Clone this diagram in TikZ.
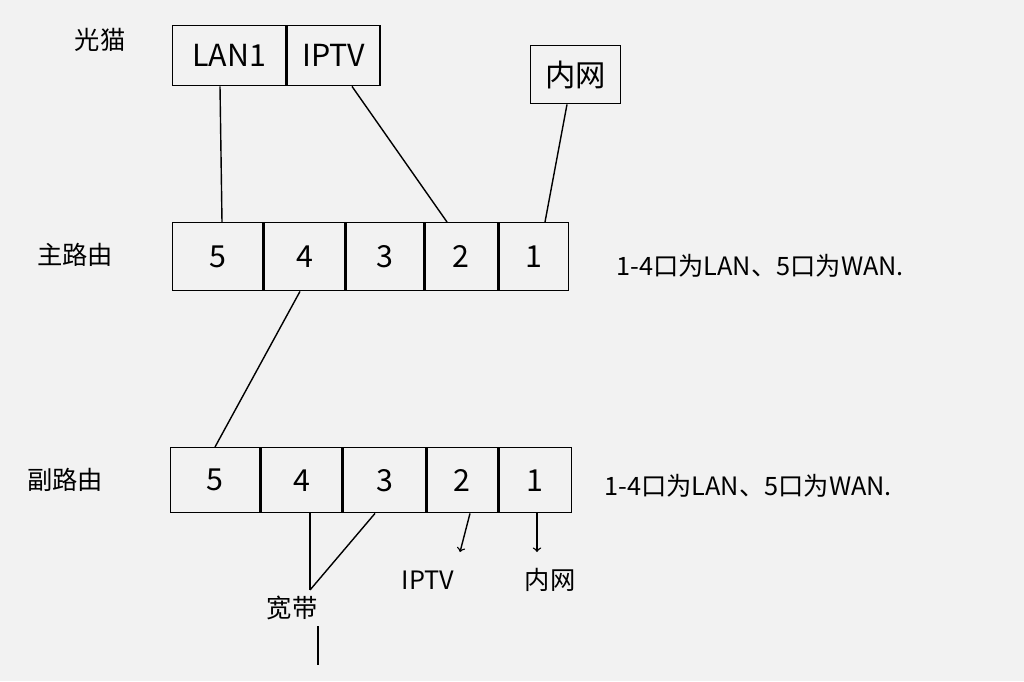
\documentclass[tikz,border=0pt]{standalone}
\usepackage{fontspec}
\setmainfont{Noto Sans CJK SC}
\usetikzlibrary{positioning}

\tikzset{
    port/.style={draw, thick, inner sep=0pt, font=\LARGE},
    wire/.style={thick},
    lbl/.style={font=\Large}
}

\begin{document}
\begin{tikzpicture}[x=0.02cm, y=-0.02cm]
    \useasboundingbox[fill=gray!10] (0,0) rectangle (1024,681);

    % --- 光猫 ---
    \node[lbl] (modem) at (100,40) {光猫};
    \node[port, minimum width=2.26cm, minimum height=1.2cm, anchor=north west] (lan1) at (172,25) {LAN1};
    \node[port, minimum width=1.86cm, minimum height=1.2cm, right=0pt of lan1] (iptv) {IPTV};
    \node[port, minimum width=1.8cm, minimum height=1.16cm, anchor=north west] (inner) at (530,45) {内网};

    % --- 主路由 ---
    \node[lbl] (main) at (75,255) {主路由};
    \node[port, minimum width=1.80cm, minimum height=1.36cm, anchor=north west] (m5) at (172,222) {5};
    \node[port, minimum width=1.62cm, minimum height=1.36cm, right=0pt of m5] (m4) {4};
    \node[port, minimum width=1.54cm, minimum height=1.36cm, right=0pt of m4] (m3) {3};
    \node[port, minimum width=1.46cm, minimum height=1.36cm, right=0pt of m3] (m2) {2};
    \node[port, minimum width=1.38cm, minimum height=1.36cm, right=0pt of m2] (m1) {1};
    \node[lbl, anchor=west] (mnote) at (610,266) {1-4口为LAN、5口为WAN.};

    % --- 副路由 ---
    \node[lbl] (sub) at (65,480) {副路由};
    \node[port, minimum width=1.78cm, minimum height=1.3cm, anchor=north west] (s5) at (170,447) {5};
    \node[port, minimum width=1.62cm, minimum height=1.3cm, right=0pt of s5] (s4) {4};
    \node[port, minimum width=1.64cm, minimum height=1.3cm, right=0pt of s4] (s3) {3};
    \node[port, minimum width=1.42cm, minimum height=1.3cm, right=0pt of s3] (s2) {2};
    \node[port, minimum width=1.44cm, minimum height=1.3cm, right=0pt of s2] (s1) {1};
    \node[lbl, anchor=west] (snote) at (598,486) {1-4口为LAN、5口为WAN.};

    % 下方
    \coordinate (join) at (310,590);
    \node[lbl] (bb) at (292,608) {宽带};
    \coordinate (bbend) at (318,665);
    \node[lbl] (iptv2) at (428,580) {IPTV};
    \node[lbl] (inner2) at (550,580) {内网};

    % 连线
    \draw[wire] (lan1.south -| 220,0) -- (m5.north -| 222,0);
    \draw[wire] (iptv.south -| 352,0) -- (m2.north -| 447,0);
    \draw[wire] (inner.south -| 567,0) -- (m1.north -| 545,0);
    \draw[wire] (m4.south -| 300,0) -- (s5.north -| 215,0);
    \draw[wire] (s4.south -| 310,0) -- (join);
    \draw[wire] (s3.south -| 375,0) -- (join);
    \draw[wire] (bb.south -| bbend) -- (bbend);
    \draw[wire, ->] (s2.south -| 470,0) -- (460,552);
    \draw[wire, ->] (s1.south -| 537,0) -- (537,552);
\end{tikzpicture}
\end{document}
